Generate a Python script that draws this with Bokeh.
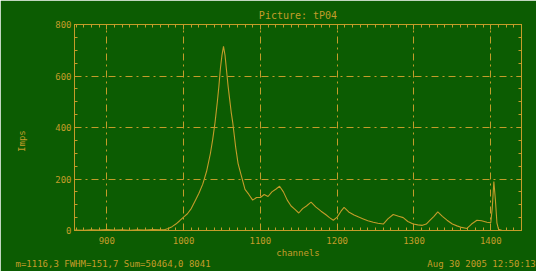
from bokeh.plotting import figure
from bokeh.models import (FixedTicker, LinearAxis, Range1d, Grid, Title,
                          CustomJSTickFormatter, ColumnDataSource)
from bokeh.embed import file_html
from bokeh.resources import INLINE

# ---- data ----
channel = [858, 870, 880, 890, 900, 910, 920, 930, 940, 950, 960, 970,
           975, 980, 985, 990, 995, 1000, 1005, 1010, 1015, 1020, 1025,
           1030, 1035, 1038, 1041, 1044, 1046, 1048, 1050, 1052, 1054,
           1056, 1058, 1060, 1062, 1064, 1066, 1068, 1071, 1075, 1080,
           1085, 1090, 1095, 1100, 1105, 1110, 1115, 1120, 1125, 1130,
           1135, 1140, 1145, 1150, 1155, 1160, 1166, 1172, 1179, 1185,
           1190, 1195, 1200, 1205, 1209, 1215, 1222, 1228, 1234, 1240,
           1247, 1253, 1260, 1266, 1273, 1280, 1286, 1292, 1299, 1305,
           1311, 1316, 1321, 1326, 1331, 1337, 1343, 1350, 1356, 1362,
           1369, 1375, 1382, 1388, 1395, 1400, 1402, 1404, 1406, 1408,
           1410, 1415, 1420, 1430, 1440]
counts = [2, 1, 3, 2, 4, 2, 3, 1, 3, 2, 4, 3,
          3, 8, 15, 25, 38, 52, 65, 85, 115, 145, 180,
          230, 300, 355, 420, 500, 560, 630, 680, 715, 680,
          620, 560, 510, 460, 420, 370, 320, 260, 215, 160,
          140, 118, 128, 128, 140, 132, 150, 160, 172, 150,
          118, 95, 82, 68, 85, 95, 110, 92, 75, 62,
          50, 40, 52, 75, 90, 72, 60, 52, 45, 38,
          32, 28, 25, 45, 62, 55, 50, 35, 25, 22,
          20, 25, 40, 55, 72, 55, 40, 25, 18, 12,
          8, 25, 40, 38, 32, 30, 90, 190, 120, 30,
          5, 0, 0, 0, 0]

x_ticks = [900, 1000, 1100, 1200, 1300, 1400]
y_ticks = [0, 200, 400, 600, 800]
x_minor = list(range(860, 1441, 10))
y_minor = list(range(0, 801, 50))

title_text = "Picture: tP04"
x_label = "channels"
y_label = "Imps"
stats_text = "m=1116,3 FWHM=151,7 Sum=50464,0 8041"
date_text = "Aug 30 2005 12:50:13"

# ---- style ----
BG = "#0c5c02"
FG = "#c49c2a"
FONT = "DejaVu Sans Mono"
NBSP = "\u00a0"

W, H = 536, 271
BL, BR, BT, BB = 74, 15, 24, 41
X0, X1 = 858, 1440
Y0, Y1 = 0, 800

p = figure(width=W, height=H, output_backend="svg", toolbar_location=None,
           x_range=Range1d(X0, X1), y_range=Range1d(Y0, Y1),
           min_border_left=BL, min_border_right=BR,
           min_border_top=BT, min_border_bottom=BB,
           background_fill_color=BG, border_fill_color=BG,
           x_axis_type=None, y_axis_type=None)
p.outline_line_color = FG
p.outline_line_width = 1

def style_axis(ax, labels=True):
    ax.axis_line_color = FG
    ax.axis_line_width = 1
    ax.major_tick_line_color = FG
    ax.minor_tick_line_color = FG
    ax.major_tick_in = 5
    ax.major_tick_out = 0
    ax.minor_tick_in = 3
    ax.minor_tick_out = 0
    ax.major_label_text_color = FG
    ax.major_label_text_font = FONT
    ax.major_label_text_font_size = "9px"
    ax.axis_label_text_color = FG
    ax.axis_label_text_font = FONT
    ax.axis_label_text_font_size = "9px"
    ax.axis_label_text_font_style = "normal"
    if not labels:
        ax.formatter = CustomJSTickFormatter(code="return ''")
        ax.major_label_text_font_size = "1px"
        ax.major_label_standoff = 0

xt = FixedTicker(ticks=x_ticks, minor_ticks=x_minor)
yt = FixedTicker(ticks=y_ticks, minor_ticks=y_minor)

xb = LinearAxis(ticker=xt, axis_label=x_label); style_axis(xb)
xb.major_label_standoff = 6
xb.axis_label_standoff = 1
# trailing non-breaking spaces move the rotated label a little lower, as in the original
yl = LinearAxis(ticker=yt, axis_label=y_label + NBSP * 5); style_axis(yl)
yl.major_label_standoff = 3
yl.axis_label_standoff = 25
xa = LinearAxis(ticker=xt); style_axis(xa, labels=False)
yr = LinearAxis(ticker=yt); style_axis(yr, labels=False)
p.add_layout(xb, "below")
p.add_layout(yl, "left")
p.add_layout(xa, "above")
p.add_layout(yr, "right")

for dim, tk in ((0, xt), (1, yt)):
    g = Grid(dimension=dim, ticker=tk)
    g.grid_line_color = FG
    g.grid_line_width = 1
    g.grid_line_dash = "7 4 2 4"
    p.add_layout(g)

src = ColumnDataSource(dict(x=channel, y=counts))
p.line("x", "y", source=src, line_color=FG, line_width=1.1)

# title above the frame
p.title.text = title_text
p.title.align = "center"
p.title.offset = -4
p.title.text_color = FG
p.title.text_font = FONT
p.title.text_font_size = "10px"
p.title.text_font_style = "normal"
p.title.standoff = 8

# footer line: statistics at left, date at right (non-breaking spaces keep the gap)
footer = stats_text + NBSP * 40 + date_text
ft = Title(text=footer, align="left", offset=-59, text_color=FG, text_font=FONT,
           text_font_size="9px", text_font_style="normal", standoff=-7)
p.add_layout(ft, "below")

open("out.html", "w").write(file_html(p, INLINE))
